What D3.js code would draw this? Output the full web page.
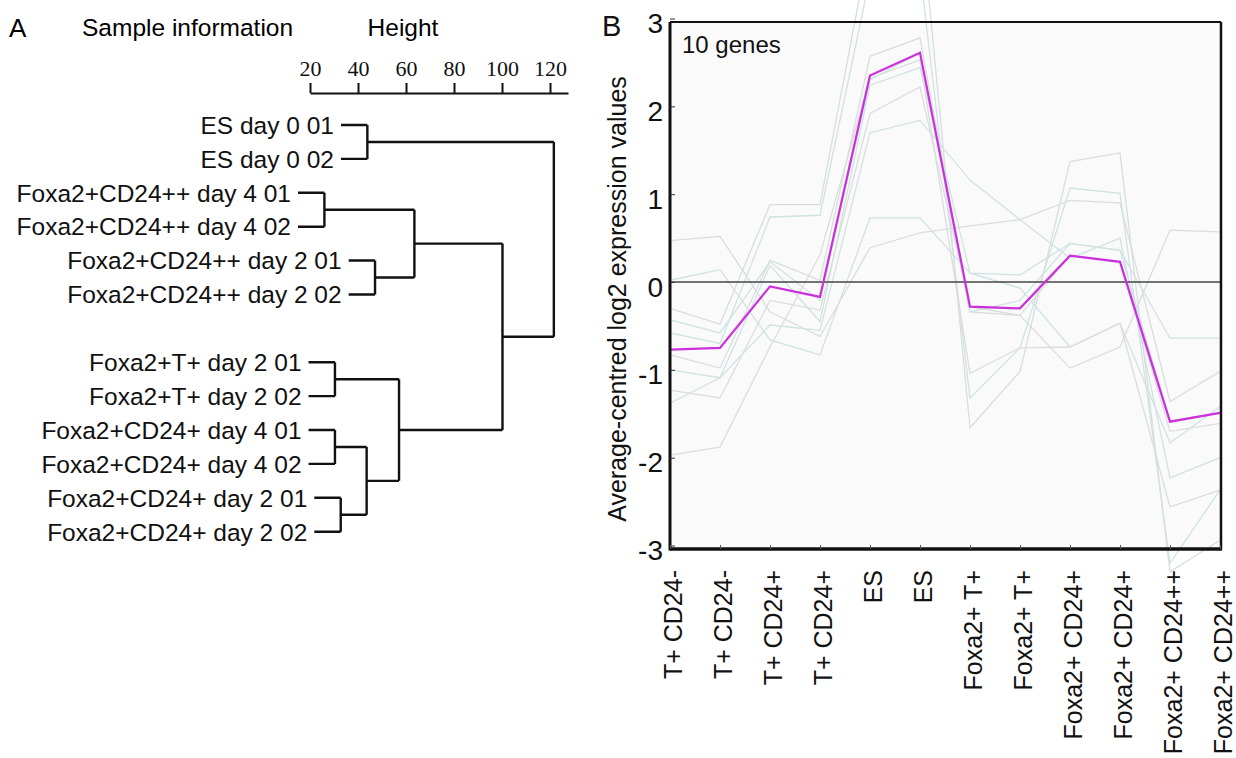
<!DOCTYPE html>
<html>
<head>
<meta charset="utf-8">
<script src="https://cdn.jsdelivr.net/npm/d3@7"></script>
<style>
  body { margin: 0; background: #fff; }
  svg { display: block; font-family: "Liberation Sans", Arial, sans-serif; }
</style>
</head>
<body>
<div id="chart"></div>
<script>
// ---- Panel A data: hierarchical clustering of the samples ----
const sampleLabels = [
  "ES day 0 01", "ES day 0 02",
  "Foxa2+CD24++ day 4 01", "Foxa2+CD24++ day 4 02",
  "Foxa2+CD24++ day 2 01", "Foxa2+CD24++ day 2 02",
  "Foxa2+T+ day 2 01", "Foxa2+T+ day 2 02",
  "Foxa2+CD24+ day 4 01", "Foxa2+CD24+ day 4 02",
  "Foxa2+CD24+ day 2 01", "Foxa2+CD24+ day 2 02"
];
// hclust style merge table: negative = leaf (1-based), positive = earlier merge row
const mergePairs = [
  [-3, -4], [-7, -8], [-9, -10], [-11, -12], [3, 4], [-1, -2],
  [-5, -6], [2, 5], [1, 7], [9, 8], [6, 10]
];
const mergeHeights = [26.0, 30.4, 30.4, 32.8, 43.6, 43.9, 47.1, 57.1, 63.5, 100.2, 121.6];
const heightTicks = [20, 40, 60, 80, 100, 120];

// ---- Panel B data: expression profiles of the 10-gene cluster ----
const conditions = [
  "T+ CD24-", "T+ CD24-", "T+ CD24+", "T+ CD24+", "ES", "ES",
  "Foxa2+ T+", "Foxa2+ T+", "Foxa2+ CD24+", "Foxa2+ CD24+", "Foxa2+ CD24++", "Foxa2+ CD24++"
];
const clusterMean = [-0.77, -0.75, -0.05, -0.17, 2.35, 2.61, -0.28, -0.30, 0.30, 0.23, -1.59, -1.49];
const gene1 = [0.47, 0.52, -0.34, -0.62, 0.39, 0.56, 0.64, 0.71, 0.93, 0.90, -1.36, -1.02];
const gene2 = [0.02, 0.14, -0.66, -0.83, 0.73, 0.73, 0.10, 0.08, 0.44, 0.36, -0.64, -0.64];
const gene3 = [-0.30, -0.48, 0.88, 0.88, 3.87, 4.28, -1.66, -1.02, 1.37, 1.47, -3.30, -2.94];
const gene4 = [-0.58, -0.70, 0.74, 0.76, 3.47, 3.55, -1.32, -0.75, 1.07, 1.01, -3.20, -2.37];
const gene5 = [-0.83, -0.98, 0.25, 0.02, 2.57, 2.78, -0.34, -0.38, 0.30, 0.23, -1.70, -1.61];
const gene6 = [-1.00, -1.09, 0.19, -0.45, 2.24, 2.44, 0.10, -0.07, -0.74, -0.47, -1.83, -1.42];
const gene7 = [-1.23, -1.32, -0.21, -0.32, 1.92, 2.22, -0.28, -0.38, -0.98, -0.74, 0.59, 0.57];
const gene8 = [-1.38, -1.09, -0.49, -0.55, 1.70, 1.84, 1.16, 0.71, 0.27, 0.50, -2.23, -2.00];
const gene9 = [-1.97, -1.88, -0.74, 0.31, 2.32, 2.53, -1.04, -0.75, -0.74, -0.47, -2.56, -2.37];
const gene10 = [-0.43, -0.58, 0.23, -0.21, 2.30, 2.61, -0.34, -0.21, 0.44, 0.36, -1.58, -1.49];
const geneProfiles = [gene1, gene2, gene3, gene4, gene5, gene6, gene7, gene8, gene9, gene10];
const yTicks = [-3, -2, -1, 0, 1, 2, 3];

const W = 1236, H = 758;
const svg = d3.select("#chart").append("svg")
  .attr("width", W)
  .attr("height", H);

// ================= Panel A =================
svg.append("text").attr("x", 9).attr("y", 37)
  .style("font-size", "26px").text("A");
svg.append("text").attr("x", 82).attr("y", 36)
  .style("font-size", "24.5px").text("Sample information");
svg.append("text").attr("x", 403).attr("y", 36)
  .attr("text-anchor", "middle")
  .style("font-size", "24.5px").text("Height");

// height scale (axis line runs a bit past 120)
let hx = d3.scaleLinear().domain([20, 127.5]).range([310, 568]);

let hAxis = svg.append("g")
  .attr("transform", "translate(0,93)")
  .call(d3.axisTop(hx).tickValues(heightTicks).tickSizeInner(10).tickSizeOuter(0).tickPadding(7));
hAxis.select(".domain").attr("stroke", "#111").attr("stroke-width", 2);
hAxis.selectAll(".tick line").attr("stroke", "#111").attr("stroke-width", 2);
hAxis.selectAll(".tick text")
  .style("font-family", "'Liberation Serif', 'Times New Roman', serif")
  .style("font-size", "22px")
  .attr("fill", "#111");

// leaf rows: a gap of one row between the two main branches
const leafGapAfter = 6;
let rowY = d3.scaleLinear().domain([0, sampleLabels.length]).range([125, 531.7]);
const hang = 11;

// build node positions from the merge table
let leafPos = sampleLabels.map((lab, i) => ({ y: rowY(i + (i >= leafGapAfter ? 1 : 0)), x: null }));
let nodePos = [];
mergePairs.forEach((pair, m) => {
  let kids = pair.map(c => c < 0 ? leafPos[-c - 1] : nodePos[c - 1]);
  nodePos.push({ x: hx(mergeHeights[m]), y: d3.mean(kids, k => k.y) });
  // leaves hang a fixed amount below their merge height
  pair.forEach(c => { if (c < 0) leafPos[-c - 1].x = hx(mergeHeights[m] - hang); });
});

let dendro = svg.append("g")
  .attr("fill", "none")
  .attr("stroke", "#111")
  .attr("stroke-width", 2.4);

mergePairs.forEach((pair, m) => {
  let node = nodePos[m];
  let kids = pair.map(c => c < 0 ? leafPos[-c - 1] : nodePos[c - 1]);
  let path = d3.path();
  kids.forEach(k => {
    path.moveTo(k.x, k.y);
    path.lineTo(node.x, k.y);
  });
  path.moveTo(node.x, kids[0].y);
  path.lineTo(node.x, kids[1].y);
  dendro.append("path").attr("d", path.toString());
});

svg.append("g").selectAll("text")
  .data(sampleLabels)
  .join("text")
  .attr("x", (d, i) => leafPos[i].x - 7)
  .attr("y", (d, i) => leafPos[i].y)
  .attr("dy", "0.36em")
  .attr("text-anchor", "end")
  .style("font-size", "24.5px")
  .attr("fill", "#111")
  .text(d => d);

// ================= Panel B =================
const plot = { left: 670, right: 1221, top: 22, bottom: 549 };

let x = d3.scalePoint().domain(d3.range(conditions.length)).range([670, 1220]);
let y = d3.scaleLinear().domain([-3, 3]).range([545.5, 18.5]);

svg.append("rect")
  .attr("x", plot.left).attr("y", plot.top)
  .attr("width", plot.right - plot.left)
  .attr("height", plot.bottom - plot.top)
  .attr("fill", "#fafafa");

let line = d3.line()
  .x((d, i) => x(i))
  .y(d => y(d));

const greyColours = ["#dadddd", "#d0e2e2"];
svg.append("g").selectAll("path")
  .data(geneProfiles)
  .join("path")
  .attr("fill", "none")
  .attr("stroke", (d, i) => greyColours[i % 2])
  .attr("stroke-width", 1.3)
  .attr("d", line);

// zero reference line
svg.append("line")
  .attr("x1", plot.left).attr("x2", plot.right)
  .attr("y1", y(0)).attr("y2", y(0))
  .attr("stroke", "#444")
  .attr("stroke-width", 1.4);

svg.append("path")
  .datum(clusterMean)
  .attr("fill", "none")
  .attr("stroke", "#cc2fdc")
  .attr("stroke-width", 2.2)
  .attr("d", line);

// frame
let frame = svg.append("g").attr("stroke", "#111");
frame.append("line").attr("x1", plot.left).attr("x2", plot.right).attr("y1", plot.top).attr("y2", plot.top).attr("stroke-width", 2);
frame.append("line").attr("x1", plot.right).attr("x2", plot.right).attr("y1", plot.top).attr("y2", plot.bottom).attr("stroke-width", 2.5);
frame.append("line").attr("x1", plot.left).attr("x2", plot.left).attr("y1", plot.top).attr("y2", plot.bottom + 1.5).attr("stroke-width", 3);
frame.append("line").attr("x1", plot.left).attr("x2", plot.right + 1).attr("y1", plot.bottom).attr("y2", plot.bottom).attr("stroke-width", 3.5);

// y axis
let yAxis = svg.append("g")
  .attr("transform", `translate(${plot.left},0)`)
  .call(d3.axisLeft(y).tickValues(yTicks).tickFormat(d => String(d))
    .tickSizeInner(-5).tickSizeOuter(0).tickPadding(7));
yAxis.select(".domain").remove();
yAxis.selectAll(".tick line").attr("stroke", "#333");
yAxis.selectAll(".tick text")
  .attr("dy", "0.5em")
  .style("font-size", "28px")
  .attr("fill", "#111");

// x axis with rotated condition labels
let xAxis = svg.append("g")
  .attr("transform", `translate(0,${plot.bottom})`)
  .call(d3.axisBottom(x).tickFormat(i => conditions[i]).tickSizeInner(-4).tickSizeOuter(0));
xAxis.select(".domain").remove();
xAxis.selectAll(".tick line").attr("stroke", "#555");
xAxis.selectAll(".tick text")
  .attr("transform", "rotate(-90)")
  .attr("x", -21)
  .attr("y", 2)
  .attr("dy", "0.36em")
  .style("text-anchor", "end")
  .style("font-size", "25px")
  .attr("fill", "#111");

svg.append("text")
  .attr("transform", "translate(626,299) rotate(-90)")
  .attr("text-anchor", "middle")
  .style("font-size", "25px")
  .attr("fill", "#111")
  .text("Average-centred log2 expression values");

svg.append("text").attr("x", 682).attr("y", 53)
  .style("font-size", "24px").attr("fill", "#111").text("10 genes");

svg.append("text").attr("x", 602).attr("y", 36)
  .style("font-size", "29px").attr("fill", "#111").text("B");
</script>
</body>
</html>
